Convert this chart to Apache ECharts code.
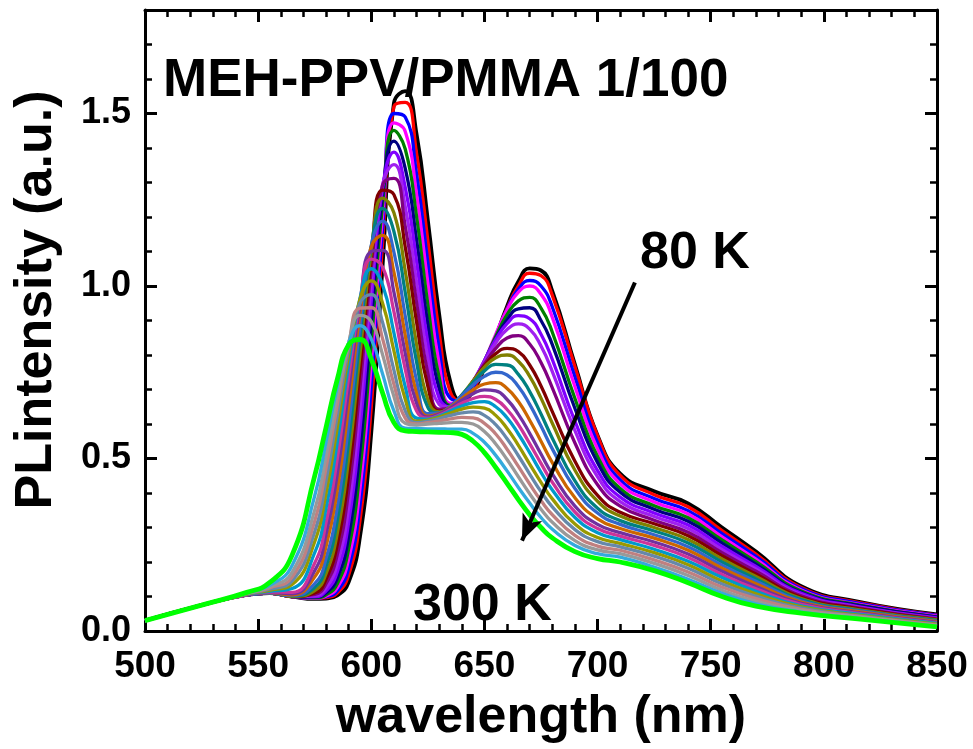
<!DOCTYPE html>
<html>
<head>
<meta charset="utf-8">
<script src="https://cdn.jsdelivr.net/npm/echarts@6/dist/echarts.min.js"></script>
<style>
html,body{margin:0;padding:0;background:#fff;}
#chart{width:973px;height:749px;}
</style>
</head>
<body>
<div id="chart"></div>
<script>
// wavelength grid (nm)
const wavelength = [500,525,545,555,565,575,580,585,590,595,600,605,610,615,620,625,630,635,640,645,650,655,660,665,670,675,680,690,700,710,725,740,755,770,790,815,850];
// temperatures (K)
const temps = [80,90,100,110,120,130,140,150,160,170,180,190,200,210,220,230,240,250,260,270,280,290,300];
// PL intensity (a.u.) for each temperature
const T80  = [.03,.075,.105,.11,.10,.093,.094,.103,.142,.273,.576,1.06,1.53,1.565,1.44,1.19,.918,.72,.666,.696,.763,.851,.941,1.013,1.051,1.045,.985,.772,.567,.456,.405,.37,.30,.23,.13,.085,.048];
const T90  = [.03,.075,.105,.11,.10,.095,.097,.110,.162,.32,.65,1.125,1.52,1.532,1.385,1.131,.865,.691,.665,.70,.767,.851,.935,1.0,1.037,1.03,.973,.766,.565,.451,.395,.36,.291,.223,.126,.083,.046];
const T100 = [.03,.075,.105,.11,.10,.095,.099,.116,.182,.363,.709,1.165,1.50,1.49,1.325,1.068,.819,.674,.667,.706,.774,.855,.933,.991,1.016,1.0,.939,.736,.546,.438,.384,.349,.282,.216,.123,.081,.045];
const T110 = [.03,.075,.105,.11,.10,.095,.101,.126,.208,.413,.776,1.204,1.473,1.448,1.266,1.008,.774,.66,.669,.713,.782,.86,.931,.982,1.0,.976,.909,.708,.528,.427,.374,.339,.273,.208,.119,.078,.043];
const T120 = [.03,.075,.105,.11,.10,.096,.105,.137,.238,.465,.835,1.236,1.451,1.397,1.202,.946,.735,.654,.67,.716,.782,.854,.917,.957,.967,.936,.866,.674,.506,.413,.363,.328,.264,.201,.116,.076,.041];
const T130 = [.03,.075,.105,.11,.10,.098,.110,.153,.274,.525,.899,1.264,1.42,1.341,1.134,.888,.702,.65,.671,.719,.782,.847,.902,.934,.937,.90,.83,.645,.488,.402,.353,.318,.255,.194,.112,.074,.04];
const T140 = [.03,.075,.105,.11,.10,.10,.116,.172,.315,.586,.957,1.285,1.388,1.286,1.072,.835,.675,.649,.675,.723,.784,.845,.891,.914,.905,.86,.787,.608,.465,.388,.342,.307,.245,.187,.109,.071,.038];
const T150 = [.03,.075,.105,.11,.10,.102,.125,.195,.358,.647,1.007,1.294,1.352,1.23,1.011,.789,.657,.649,.677,.724,.781,.835,.874,.89,.875,.826,.752,.581,.447,.375,.332,.297,.236,.18,.105,.069,.036];
const T160 = [.03,.075,.105,.11,.10,.106,.137,.222,.406,.705,1.05,1.293,1.312,1.173,.953,.746,.643,.648,.678,.723,.774,.819,.849,.856,.832,.778,.705,.545,.424,.362,.321,.286,.227,.173,.102,.067,.035];
const T170 = [.03,.075,.105,.11,.10,.11,.15,.251,.453,.755,1.079,1.278,1.265,1.113,.896,.709,.637,.648,.68,.724,.769,.804,.819,.81,.771,.71,.636,.492,.393,.344,.311,.276,.218,.165,.098,.065,.033];
const T180 = [.03,.075,.105,.11,.10,.117,.166,.284,.50,.802,1.099,1.255,1.212,1.044,.831,.67,.635,.651,.684,.725,.765,.792,.80,.782,.738,.675,.602,.466,.376,.333,.30,.265,.209,.158,.094,.062,.032];
const T190 = [.03,.075,.105,.11,.102,.126,.187,.321,.55,.848,1.113,1.225,1.158,.981,.78,.648,.632,.651,.684,.721,.754,.773,.771,.744,.694,.629,.559,.435,.356,.32,.29,.255,.20,.151,.091,.06,.030];
const T200 = [.03,.075,.105,.11,.103,.137,.21,.36,.599,.886,1.118,1.188,1.098,.913,.726,.63,.632,.652,.682,.713,.738,.75,.742,.709,.657,.594,.528,.413,.342,.309,.279,.244,.191,.144,.087,.058,.028];
const T210 = [.03,.075,.105,.111,.105,.157,.245,.41,.653,.92,1.114,1.147,1.04,.857,.688,.623,.63,.649,.674,.699,.716,.72,.703,.665,.611,.55,.488,.386,.325,.297,.269,.234,.182,.137,.084,.056,.027];
const T220 = [.03,.075,.105,.112,.108,.175,.279,.456,.698,.944,1.10,1.103,.982,.805,.66,.62,.629,.647,.669,.688,.699,.696,.671,.628,.573,.513,.455,.362,.309,.285,.258,.223,.173,.129,.08,.053,.025];
const T230 = [.03,.075,.105,.113,.112,.197,.314,.501,.736,.957,1.078,1.055,.926,.759,.638,.617,.626,.642,.66,.674,.68,.671,.642,.598,.543,.486,.431,.345,.297,.275,.248,.213,.164,.122,.077,.051,.023];
const T240 = [.03,.075,.106,.115,.123,.227,.356,.548,.773,.964,1.05,1.003,.864,.708,.617,.614,.623,.638,.652,.662,.665,.65,.618,.571,.517,.46,.409,.329,.285,.265,.237,.202,.155,.115,.073,.049,.022];
const T250 = [.03,.075,.107,.118,.135,.259,.399,.591,.80,.962,1.015,.95,.812,.672,.608,.611,.62,.632,.643,.649,.646,.625,.587,.538,.484,.431,.383,.31,.271,.254,.227,.192,.145,.108,.07,.046,.02];
const T260 = [.03,.075,.108,.121,.145,.288,.436,.626,.817,.95,.975,.894,.756,.638,.604,.608,.616,.625,.632,.635,.625,.598,.557,.508,.455,.404,.36,.294,.259,.244,.217,.182,.136,.101,.066,.044,.018];
const T270 = [.03,.075,.109,.125,.156,.319,.473,.657,.83,.936,.937,.847,.715,.617,.60,.604,.609,.615,.619,.618,.602,.571,.527,.477,.426,.378,.337,.277,.246,.234,.206,.171,.127,.094,.063,.042,.017];
const T280 = [.03,.075,.11,.128,.17,.351,.506,.683,.835,.915,.897,.801,.68,.602,.597,.60,.602,.604,.605,.60,.578,.542,.497,.447,.398,.353,.315,.262,.235,.224,.196,.161,.118,.086,.059,.04,.015];
const T290 = [.03,.075,.111,.132,.19,.392,.547,.709,.835,.885,.846,.745,.638,.588,.587,.586,.586,.585,.585,.573,.547,.509,.464,.416,.371,.329,.295,.248,.224,.214,.185,.15,.109,.079,.055,.037,.013];
const T300 = [.03,.075,.112,.14,.22,.45,.59,.73,.83,.845,.788,.69,.604,.58,.578,.577,.576,.575,.57,.55,.517,.474,.428,.381,.337,.30,.27,.23,.21,.20,.175,.14,.10,.072,.052,.035,.012];
// x and y tick values
const xTicks = [500,550,600,650,700,750,800,850];
const yTicks = [0.0,0.5,1.0,1.5];
// arrow annotation (data units): from 80 K label towards 300 K label
const arrowFrom = [716.5, 1.01];
const arrowTo = [666.6, 0.262];

const curves = [T80,T90,T100,T110,T120,T130,T140,T150,T160,T170,T180,T190,T200,T210,T220,T230,T240,T250,T260,T270,T280,T290,T300];
const colors = ['#000000','#FF0000','#0000FF','#FF00FF','#008000','#000080','#8000FF','#A020F0','#800080','#800000','#808000','#008080','#3366CC','#CC6600','#7030A0','#CC3399','#0099CC','#999900','#6688AA','#C08080','#999999','#33AADD','#00FF00'];

const FONT = '"Liberation Sans", Arial, sans-serif';

const series = curves.map((c, i) => ({
  type: 'line',
  name: temps[i] + ' K',
  data: wavelength.map((w, j) => [w, c[j]]),
  symbol: 'none',
  smooth: 0.5,
  lineStyle: { color: colors[i], width: i === 0 ? 3.8 : (i === curves.length - 1 ? 4.8 : 3.3) },
  z: 2 + i * 0.01,
  silent: true
}));
series.push({
  type: 'line',
  data: [],
  silent: true,
  markLine: {
    silent: true,
    symbol: ['none', 'arrow'],
    symbolSize: [16, 26],
    label: { show: false },
    lineStyle: { color: '#000', width: 4, type: 'solid' },
    data: [[{ coord: arrowFrom }, { coord: arrowTo }]]
  },
  z: 5
});

const axisCommon = {
  axisLine: { show: true, onZero: false, lineStyle: { color: '#000', width: 3 } },
  splitLine: { show: false }
};

const chart = echarts.init(document.getElementById('chart'), null, { renderer: 'canvas' });
chart.setOption({
  animation: false,
  backgroundColor: '#fff',
  grid: { left: 145, right: 36, top: 10, bottom: 118, containLabel: false },
  xAxis: [
    Object.assign({}, axisCommon, {
      type: 'value', min: xTicks[0], max: xTicks[xTicks.length - 1], interval: 50, position: 'bottom',
      axisTick: { show: true, inside: true, length: 12, lineStyle: { color: '#000', width: 3 } },
      minorTick: { show: true, splitNumber: 5, length: 7, lineStyle: { color: '#000', width: 2.5 } },
      axisLabel: { show: true, margin: 17, color: '#000', fontSize: 37, fontWeight: 'bold', fontFamily: FONT }
    }),
    Object.assign({}, axisCommon, {
      type: 'value', min: xTicks[0], max: xTicks[xTicks.length - 1], interval: 50, position: 'top',
      axisTick: { show: true, inside: true, length: 12, lineStyle: { color: '#000', width: 3 } },
      minorTick: { show: true, splitNumber: 5, length: 7, lineStyle: { color: '#000', width: 2.5 } },
      axisLabel: { show: false }
    })
  ],
  yAxis: [
    Object.assign({}, axisCommon, {
      type: 'value', min: 0, max: 1.8, interval: 0.5, position: 'left',
      axisTick: { show: true, inside: true, length: 12, lineStyle: { color: '#000', width: 3 } },
      axisLabel: { show: true, showMaxLabel: false, margin: 14, color: '#000', fontSize: 36, fontWeight: 'bold', fontFamily: FONT,
        formatter: v => (yTicks.indexOf(Math.round(v * 10) / 10) >= 0 ? v.toFixed(1) : '') }
    }),
    {
      type: 'value', min: 0, max: 1.8, interval: 0.1, position: 'left',
      axisLine: { show: false }, splitLine: { show: false },
      axisTick: { show: true, inside: true, length: 7, lineStyle: { color: '#000', width: 2.5 } },
      axisLabel: { show: false }
    },
    Object.assign({}, axisCommon, {
      type: 'value', min: 0, max: 1.8, interval: 0.5, position: 'right',
      axisTick: { show: true, inside: true, length: 12, lineStyle: { color: '#000', width: 3 } },
      axisLabel: { show: false }
    }),
    {
      type: 'value', min: 0, max: 1.8, interval: 0.1, position: 'right',
      axisLine: { show: false }, splitLine: { show: false },
      axisTick: { show: true, inside: true, length: 7, lineStyle: { color: '#000', width: 2.5 } },
      axisLabel: { show: false }
    }
  ],
  series: series,
  graphic: [
    { type: 'text', left: 163, top: 55, style: { text: 'MEH-PPV/PMMA 1/100', font: 'bold 53px ' + FONT, fill: '#000', textVerticalAlign: 'middle' }, z: 100 },
    { type: 'text', left: 640, top: 228, style: { text: '80 K', font: 'bold 52px ' + FONT, fill: '#000', textVerticalAlign: 'middle' }, z: 100 },
    { type: 'text', left: 413, top: 580, style: { text: '300 K', font: 'bold 52px ' + FONT, fill: '#000', textVerticalAlign: 'middle' }, z: 100 },
    { type: 'text', x: 541, y: 718, style: { text: 'wavelength (nm)', font: 'bold 52px ' + FONT, fill: '#000', textAlign: 'center', textVerticalAlign: 'middle' }, z: 100 },
    { type: 'text', x: 37, y: 300, rotation: Math.PI / 2, style: { text: 'PLintensity (a.u.)', font: 'bold 52px ' + FONT, fill: '#000', textAlign: 'center', textVerticalAlign: 'middle' }, z: 100 }
  ]
});
</script>
</body>
</html>
